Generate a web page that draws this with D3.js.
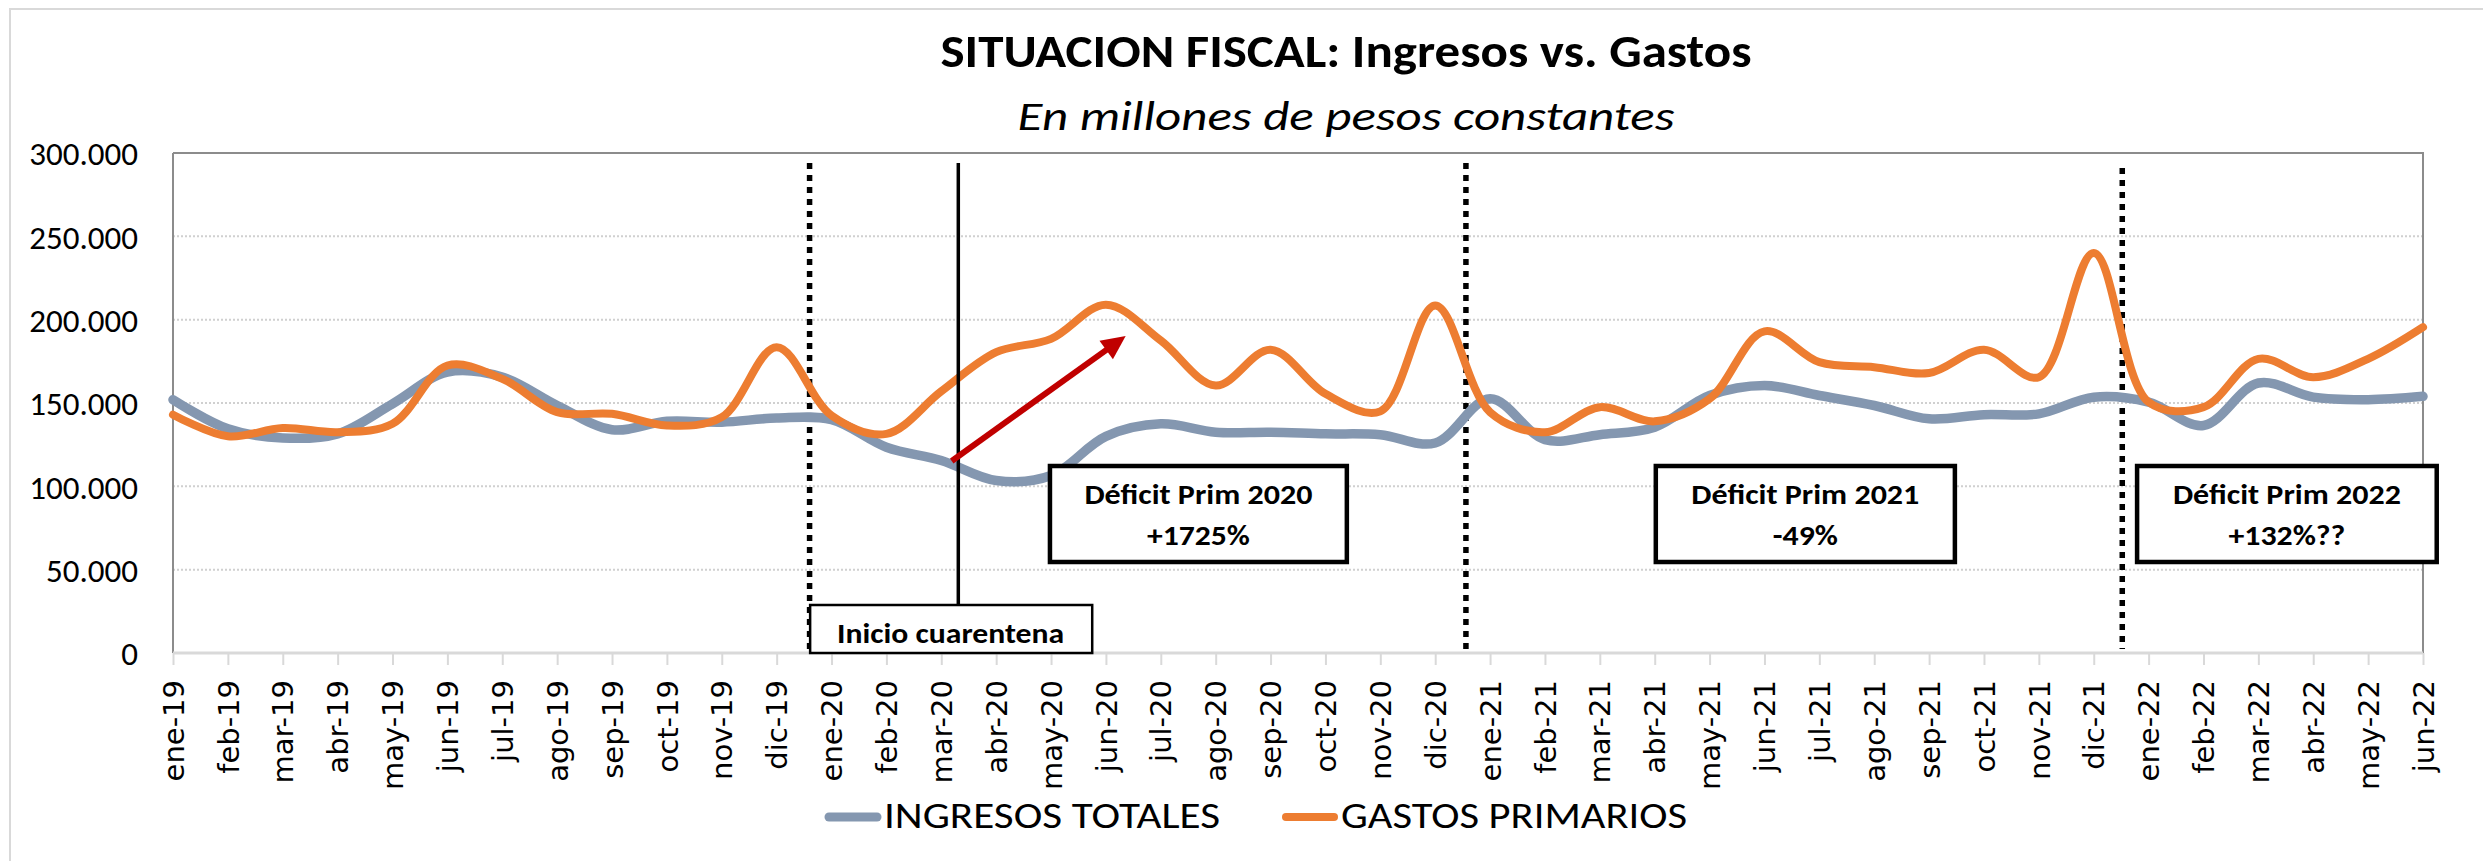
<!DOCTYPE html>
<html>
<head>
<meta charset="utf-8">
<script src="https://cdn.jsdelivr.net/npm/d3@7"></script>
<style>
  html, body { margin: 0; padding: 0; background: #ffffff; }
  svg { display: block; }
</style>
</head>
<body>
<svg id="chart" width="2483" height="861"></svg>
<script>
// ---- Datos: ingresos totales y gastos primarios mensuales (millones de pesos constantes)
const months = [
  "ene-19","feb-19","mar-19","abr-19","may-19","jun-19","jul-19","ago-19","sep-19","oct-19","nov-19","dic-19",
  "ene-20","feb-20","mar-20","abr-20","may-20","jun-20","jul-20","ago-20","sep-20","oct-20","nov-20","dic-20",
  "ene-21","feb-21","mar-21","abr-21","may-21","jun-21","jul-21","ago-21","sep-21","oct-21","nov-21","dic-21",
  "ene-22","feb-22","mar-22","abr-22","may-22","jun-22"
];
const ingresos = [
  152000, 134500, 129000, 131500, 149500, 168500, 165500, 148500, 134000, 139000, 138500, 141000,
  140000, 123500, 115500, 103500, 106500, 130000, 137500, 132500, 132500, 131500, 131000, 126000,
  152500, 128000, 131000, 135500, 154500, 160500, 154500, 148500, 140500, 143000, 143500, 153500,
  150500, 136500, 162000, 153500, 152000, 154000
];
const gastos = [
  143000, 130000, 135000, 132500, 137500, 172500, 164500, 144500, 143500, 136500, 141500, 183500,
  142500, 131500, 157000, 180500, 188500, 209000, 187500, 160500, 182000, 155500, 145000, 208500,
  144500, 132500, 147500, 139000, 152500, 193000, 174500, 171500, 168000, 182000, 165500, 240000,
  150500, 147500, 176500, 165500, 176500, 195500
];
const seriesNames = ["INGRESOS TOTALES", "GASTOS PRIMARIOS"];
const yTicks = [0, 50000, 100000, 150000, 200000, 250000, 300000];

// Anotaciones: separadores de año, inicio de cuarentena y variación del déficit primario
const yearBreaks = [11.6, 23.56, 35.52];
const quarantineAt = 14.31;
const deficitNotes = [
  { title: "Déficit Prim 2020", change: "+1725%",  from: 15.98, to: 21.39, changeWidth: 103 },
  { title: "Déficit Prim 2021", change: "-49%",    from: 27.02, to: 32.47, changeWidth: 65 },
  { title: "Déficit Prim 2022", change: "+132%??", from: 35.79, to: 41.25, changeWidth: 117 }
];

// ---- Configuración visual
const W = 2483, H = 861;
const plot = { left: 173, right: 2423, top: 153, bottom: 653 };
const COLORS = { ingresos: "#8497B0", gastos: "#ED7D31", arrow: "#C00000" };
const SANS = "Carlito, Calibri, Lato, 'Open Sans', sans-serif";

const svg = d3.select("#chart");

const x = d3.scalePoint().domain(months).range([plot.left, plot.right]);
const xi = d3.scaleLinear().domain([0, months.length - 1]).range([plot.left, plot.right]);
const y = d3.scaleLinear().domain([0, 300000]).range([plot.bottom, plot.top]);

const esLocale = d3.formatLocale({ decimal: ",", thousands: ".", grouping: [3], currency: ["$", ""] });
const fmt = esLocale.format(",");

// Marco exterior del gráfico
svg.append("rect")
  .attr("x", 10).attr("y", 9)
  .attr("width", W + 20).attr("height", H + 20)
  .attr("fill", "#ffffff").attr("stroke", "#D9D9D9").attr("stroke-width", 2);

// Títulos
svg.append("text")
  .attr("x", 1346).attr("y", 67)
  .attr("text-anchor", "middle")
  .attr("font-family", SANS).attr("font-weight", "bold").attr("font-size", 46)
  .attr("textLength", 811).attr("lengthAdjust", "spacingAndGlyphs")
  .attr("fill", "#000")
  .text("SITUACION FISCAL: Ingresos vs. Gastos");

svg.append("text")
  .attr("x", 1346).attr("y", 130)
  .attr("text-anchor", "middle")
  .attr("font-family", SANS).attr("font-style", "italic").attr("font-size", 40)
  .attr("textLength", 657).attr("lengthAdjust", "spacingAndGlyphs")
  .attr("fill", "#000")
  .text("En millones de pesos constantes");

// Líneas de cuadrícula punteadas
svg.append("g")
  .selectAll("line")
  .data(yTicks.filter(d => d > 0 && d < 300000))
  .join("line")
  .attr("x1", plot.left).attr("x2", plot.right)
  .attr("y1", d => y(d)).attr("y2", d => y(d))
  .attr("stroke", "#D0D0D0").attr("stroke-width", 2)
  .attr("stroke-dasharray", "2,2");

// Borde del área de trazado (superior y derecho)
svg.append("path")
  .attr("d", `M${plot.left},${y(300000)}H${plot.right}V${plot.bottom}`)
  .attr("fill", "none").attr("stroke", "#8C8C8C").attr("stroke-width", 2);

// Eje Y
const yAxis = svg.append("g")
  .attr("transform", `translate(${plot.left},0)`)
  .call(d3.axisLeft(y).tickValues(yTicks).tickFormat(fmt).tickSize(0).tickPadding(35));
yAxis.select(".domain").remove();
yAxis.selectAll("text")
  .attr("font-family", SANS).attr("font-size", 33).attr("fill", "#000")
  .attr("dy", "0.36em");
svg.append("line")
  .attr("x1", plot.left).attr("x2", plot.left)
  .attr("y1", plot.top).attr("y2", plot.bottom)
  .attr("stroke", "#8C8C8C").attr("stroke-width", 2);

// Eje X con etiquetas verticales
const xAxis = svg.append("g")
  .attr("transform", `translate(0,${plot.bottom})`)
  .call(d3.axisBottom(x).tickSize(12));
xAxis.select(".domain").remove();
xAxis.selectAll(".tick line").attr("stroke", "#D9D9D9").attr("stroke-width", 2);
xAxis.selectAll(".tick text")
  .attr("font-family", "'DejaVu Sans', Verdana, sans-serif")
  .attr("font-size", 29).attr("fill", "#000")
  .attr("text-anchor", "end")
  .attr("x", 0).attr("y", 0).attr("dy", "0.35em")
  .attr("transform", "translate(0,27) rotate(-90)");
svg.append("line")
  .attr("x1", plot.left).attr("x2", plot.right)
  .attr("y1", plot.bottom).attr("y2", plot.bottom)
  .attr("stroke", "#D9D9D9").attr("stroke-width", 3);

// Separadores de año (punteados)
svg.append("g")
  .selectAll("line")
  .data(yearBreaks)
  .join("line")
  .attr("x1", d => xi(d)).attr("x2", d => xi(d))
  .attr("y1", (d, i) => y(i === 2 ? 291000 : 294000)).attr("y2", plot.bottom - 4)
  .attr("stroke", "#000").attr("stroke-width", 5.5)
  .attr("stroke-dasharray", "6,6");

// Series suavizadas
const line = d3.line()
  .x((d, i) => x(months[i]))
  .y(d => y(d))
  .curve(d3.curveCatmullRom.alpha(0.5));

svg.append("path")
  .datum(ingresos)
  .attr("d", line)
  .attr("fill", "none").attr("stroke", COLORS.ingresos)
  .attr("stroke-width", 9.5).attr("stroke-linejoin", "round").attr("stroke-linecap", "round");

svg.append("path")
  .datum(gastos)
  .attr("d", line)
  .attr("fill", "none").attr("stroke", COLORS.gastos)
  .attr("stroke-width", 8).attr("stroke-linejoin", "round").attr("stroke-linecap", "round");

// Línea de inicio de cuarentena
svg.append("line")
  .attr("x1", xi(quarantineAt)).attr("x2", xi(quarantineAt))
  .attr("y1", y(294000)).attr("y2", y(28800))
  .attr("stroke", "#000").attr("stroke-width", 3.5);

// Recuadro "Inicio cuarentena"
const startBox = svg.append("g");
startBox.append("rect")
  .attr("x", xi(11.61)).attr("y", y(28800))
  .attr("width", xi(16.75) - xi(11.61)).attr("height", y(0) - y(28800))
  .attr("fill", "#ffffff").attr("stroke", "#000").attr("stroke-width", 2.5);
startBox.append("text")
  .attr("x", xi(14.17)).attr("y", 643)
  .attr("text-anchor", "middle")
  .attr("font-family", SANS).attr("font-weight", "bold").attr("font-size", 28)
  .attr("textLength", 227).attr("lengthAdjust", "spacingAndGlyphs")
  .attr("fill", "#000")
  .text("Inicio cuarentena");

// Flecha roja de aumento del gasto
const a0 = [xi(14.19), y(115200)], a1 = [xi(17.36), y(190200)];
const ang = Math.atan2(a1[1] - a0[1], a1[0] - a0[0]);
const headLen = 24, headHalf = 11.5;
const base = [a1[0] - headLen * Math.cos(ang), a1[1] - headLen * Math.sin(ang)];
svg.append("line")
  .attr("x1", a0[0]).attr("y1", a0[1])
  .attr("x2", base[0] + 2 * Math.cos(ang)).attr("y2", base[1] + 2 * Math.sin(ang))
  .attr("stroke", COLORS.arrow).attr("stroke-width", 6);
svg.append("polygon")
  .attr("points", [
    a1,
    [base[0] + headHalf * Math.sin(ang), base[1] - headHalf * Math.cos(ang)],
    [base[0] - headHalf * Math.sin(ang), base[1] + headHalf * Math.cos(ang)]
  ].map(p => p.join(",")).join(" "))
  .attr("fill", COLORS.arrow);

// Recuadros del déficit primario
const notes = svg.append("g")
  .selectAll("g")
  .data(deficitNotes)
  .join("g");
notes.append("rect")
  .attr("x", d => xi(d.from)).attr("y", y(112200))
  .attr("width", d => xi(d.to) - xi(d.from)).attr("height", y(54600) - y(112200))
  .attr("fill", "#ffffff").attr("stroke", "#000").attr("stroke-width", 4.5);
notes.append("text")
  .attr("x", d => (xi(d.from) + xi(d.to)) / 2).attr("y", 504)
  .attr("text-anchor", "middle")
  .attr("font-family", SANS).attr("font-weight", "bold").attr("font-size", 28)
  .attr("textLength", 228).attr("lengthAdjust", "spacingAndGlyphs")
  .attr("fill", "#000")
  .text(d => d.title);
notes.append("text")
  .attr("x", d => (xi(d.from) + xi(d.to)) / 2).attr("y", 545)
  .attr("text-anchor", "middle")
  .attr("font-family", SANS).attr("font-weight", "bold").attr("font-size", 28)
  .attr("textLength", d => d.changeWidth).attr("lengthAdjust", "spacingAndGlyphs")
  .attr("fill", "#000")
  .text(d => d.change);

// Leyenda
const legendItems = [
  { name: seriesNames[0], color: COLORS.ingresos, x0: 829, width: 336, sw: 9 },
  { name: seriesNames[1], color: COLORS.gastos,   x0: 1286, width: 346, sw: 8 }
];
const legend = svg.append("g")
  .selectAll("g")
  .data(legendItems)
  .join("g");
legend.append("line")
  .attr("x1", d => d.x0).attr("x2", d => d.x0 + 48)
  .attr("y1", 817).attr("y2", 817)
  .attr("stroke", d => d.color).attr("stroke-width", d => d.sw)
  .attr("stroke-linecap", "round");
legend.append("text")
  .attr("x", d => d.x0 + 55).attr("y", 828)
  .attr("font-family", SANS).attr("font-size", 36)
  .attr("textLength", d => d.width).attr("lengthAdjust", "spacingAndGlyphs")
  .attr("fill", "#000")
  .text(d => d.name);
</script>
</body>
</html>
